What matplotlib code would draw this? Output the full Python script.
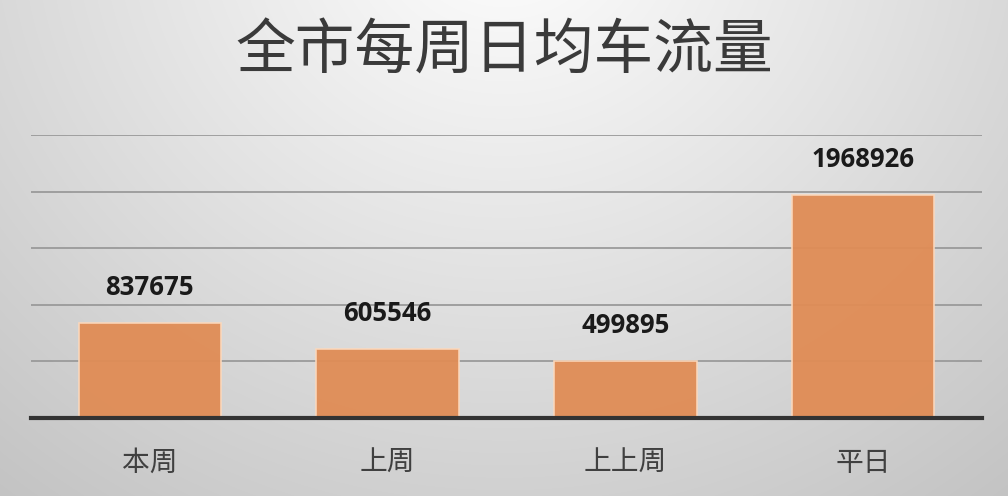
#!/usr/bin/env python3
import numpy as np
import matplotlib
matplotlib.use('Agg')
import matplotlib.pyplot as plt

## Data
categories = ['本周', '上周', '上上周', '平日']
values = [837675, 605546, 499895, 1968926]
title = '全市每周日均车流量'

plt.rcParams['font.family'] = ['Noto Sans CJK SC', 'DejaVu Sans']

fig = plt.figure(figsize=(10.08, 4.96), dpi=100)

## Background: radial grey gradient, lightest at top centre
bg = fig.add_axes([0, 0, 1, 1], zorder=0)
yy, xx = np.mgrid[0:496, 0:1008]
r = np.sqrt(((xx - 504) / 650.0)**2 + ((yy + 80) / 600.0)**2)
shade = np.clip(1.0 - 0.19 * r, 0, 1)
bg.imshow(np.dstack([shade] * 3), aspect='auto', extent=(0, 1, 0, 1))
bg.set_axis_off()

## Bar chart
ax = fig.add_axes([31/1008, 78/496, 951/1008, 283/496], zorder=1)
ax.patch.set_alpha(0)
x = np.arange(len(categories))
ax.bar(x, values, width=0.6, color='#e08c55', edgecolor='#fbd8bc',
       linewidth=1.2, alpha=0.95, zorder=3)
ax.set_xlim(-0.5, len(categories) - 0.5)
ax.set_ylim(0, 2500000)
ax.set_yticks(np.arange(0, 2500001, 500000))
ax.yaxis.grid(True, color='#9a9a9a', linewidth=1.3, zorder=2)
ax.set_axisbelow(True)
for s in ['top', 'right', 'left']:
    ax.spines[s].set_visible(False)
ax.spines['bottom'].set_color('#333333')
ax.spines['bottom'].set_linewidth(3)
ax.spines['bottom'].set_zorder(4)
ax.tick_params(axis='y', left=False, labelleft=False)
ax.tick_params(axis='x', bottom=False, pad=18)
ax.set_xticks(x)
ax.set_xticklabels(categories, fontsize=20, color='#404040')

for xi, v in zip(x, values):
    ax.annotate(str(v), (xi, v), xytext=(0, 36), textcoords='offset pixels',
                ha='center', va='center', fontsize=18.5, fontweight='bold',
                color='#1a1a1a', family='Open Sans')

fig.text(0.5, 1 - 52/496, title, ha='center', va='center', fontsize=43,
         fontweight='medium', color='#3a3a3a')

plt.savefig('out.png', dpi=100)
